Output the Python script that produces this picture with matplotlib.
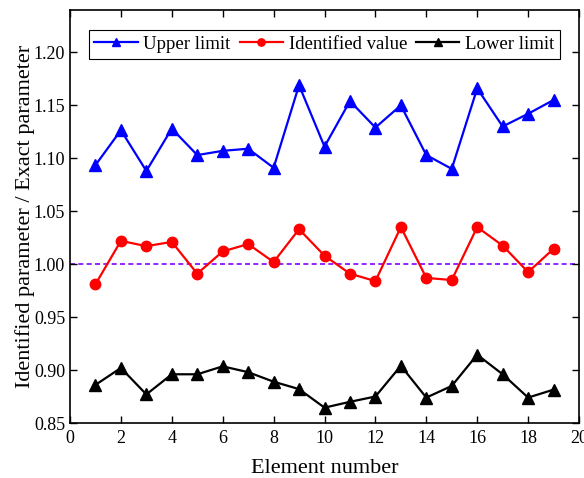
import matplotlib.pyplot as plt
import numpy as np

plt.rcParams['font.family'] = ['Liberation Serif', 'DejaVu Serif']
plt.rcParams['mathtext.fontset'] = 'stix'

element = np.arange(1, 20)
upper = [1.0935, 1.1265, 1.088, 1.128, 1.103, 1.107, 1.109, 1.091, 1.169, 1.111,
         1.154, 1.129, 1.150, 1.103, 1.090, 1.166, 1.130, 1.142, 1.155]
identified = [0.981, 1.022, 1.017, 1.021, 0.991, 1.012, 1.019, 1.002, 1.033, 1.008,
              0.991, 0.984, 1.035, 0.987, 0.985, 1.035, 1.0175, 0.9925, 1.0145]
lower = [0.886, 0.902, 0.877, 0.896, 0.896, 0.9035, 0.898, 0.889, 0.882, 0.8645,
         0.870, 0.875, 0.904, 0.874, 0.885, 0.9145, 0.896, 0.874, 0.8815]

fig = plt.figure(figsize=(5.84, 4.78), dpi=100)
ax = fig.add_axes([70 / 584, 1 - 423 / 478, 509 / 584, 413 / 478])

ax.axhline(1.0, color='#7f00ff', linestyle=(0, (3, 2)), linewidth=1.2, zorder=1)
ax.plot(element, upper, '-^', color='#0000ff', linewidth=1.6, markersize=8, label='Upper limit')
ax.plot(element, identified, '-o', color='#ff0000', linewidth=1.6, markersize=7.5, label='Identified value')
ax.plot(element, lower, '-^', color='black', linewidth=1.6, markersize=8, label='Lower limit')

ax.set_xlim(0, 20)
ax.set_ylim(0.85, 1.24)
ax.set_xticks(np.arange(0, 21, 2))
ax.set_yticks(np.arange(0.85, 1.201, 0.05))
ax.set_yticklabels([f'{v:.2f}' for v in np.arange(0.85, 1.201, 0.05)])
ax.tick_params(direction='in', top=True, right=True, labeltop=False, labelright=False,
               labelsize=13, length=5, width=1)
ax.tick_params(axis='x', pad=5)
for s in ax.spines.values():
    s.set_linewidth(1.2)

ax.set_xlabel('Element number', fontsize=16, labelpad=9)
ax.set_ylabel('Identified parameter / Exact parameter', fontsize=16, labelpad=-1)

leg = ax.legend(loc='upper left', bbox_to_anchor=(0.037, 0.951), ncol=3, fontsize=13.5,
                fancybox=False, edgecolor='black', framealpha=1, markerscale=0.7,
                handlelength=2.3, handletextpad=0.3, columnspacing=0.5,
                borderpad=0.3, borderaxespad=0)
leg.get_frame().set_linewidth(0.8)

fig.savefig('out.png', dpi=100)
